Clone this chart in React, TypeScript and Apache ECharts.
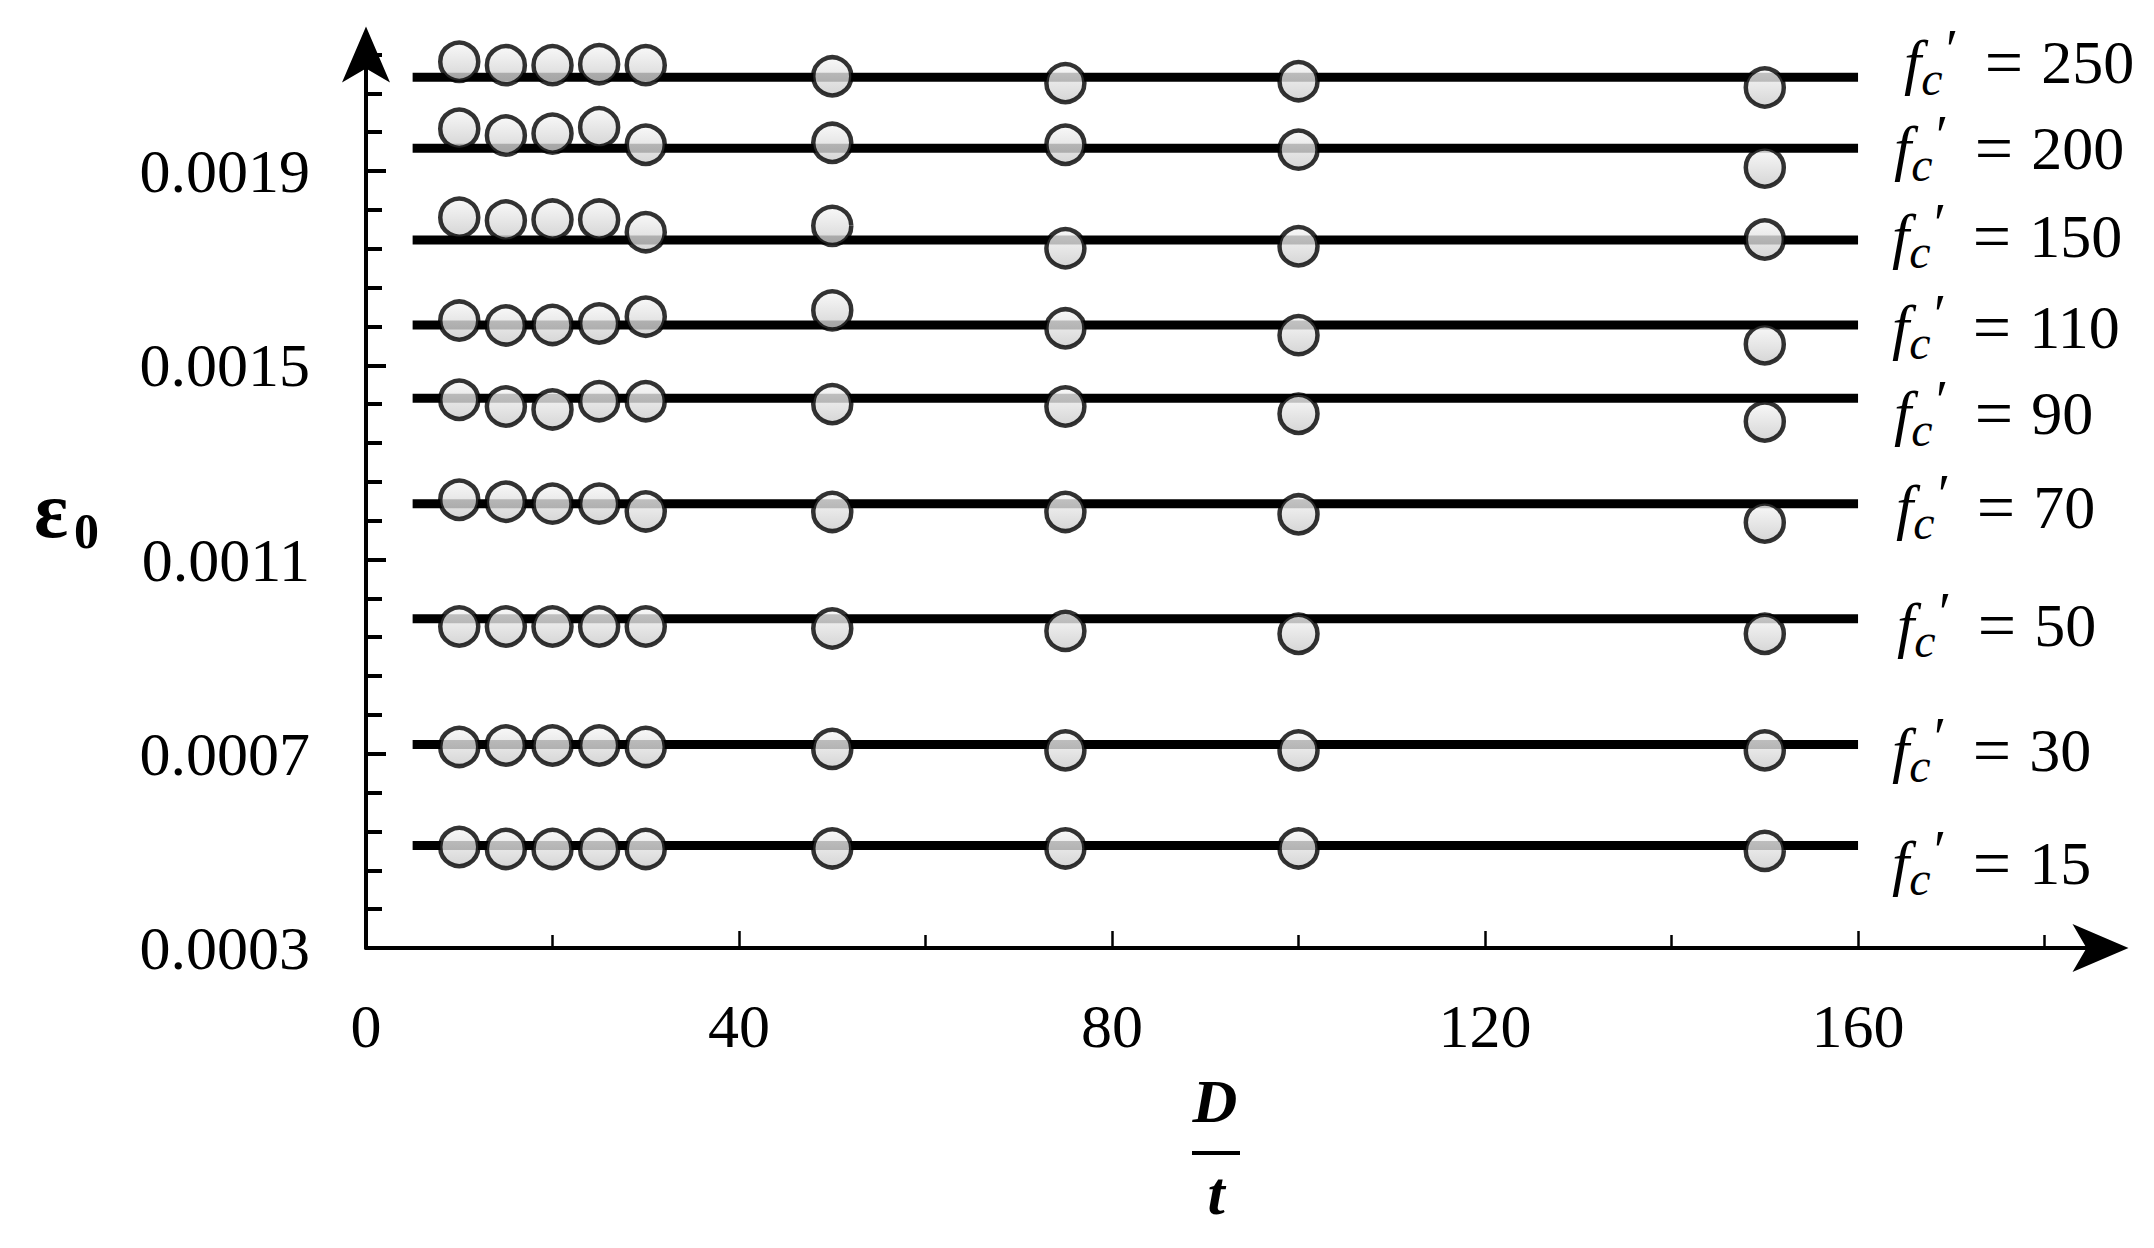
import React, { useEffect, useRef } from "react";
import * as echarts from "echarts";

const SERIF = '"Liberation Serif", "Times New Roman", serif';

// ---- data ----
const dOverT = [10, 15, 20, 25, 30, 50, 75, 100, 150];
const fcValues = [250, 200, 150, 110, 90, 70, 50, 30, 15];
const fitLevels = [0.002093, 0.001947, 0.001758, 0.001583, 0.001432, 0.001215, 0.000978, 0.000719, 0.000511];
const fitStartX = 5;
const fitEndX = 160;

const eps250 = [0.002125, 0.002118, 0.002118, 0.00212, 0.002118, 0.002095, 0.002081, 0.002085, 0.002072];
const eps200 = [0.001987, 0.001973, 0.001977, 0.00199, 0.001954, 0.001958, 0.001954, 0.001944, 0.001907];
const eps150 = [0.001804, 0.001798, 0.0018, 0.0018, 0.001774, 0.001787, 0.001741, 0.001745, 0.001759];
const eps110 = [0.001592, 0.001582, 0.001583, 0.001586, 0.0016, 0.001613, 0.001576, 0.001562, 0.001543];
const eps90 = [0.001429, 0.001415, 0.001409, 0.001426, 0.001426, 0.00142, 0.001415, 0.0014, 0.001384];
const eps70 = [0.001223, 0.001219, 0.001215, 0.001215, 0.001199, 0.001198, 0.001198, 0.001193, 0.001176];
const eps50 = [0.000962, 0.000962, 0.000962, 0.000962, 0.000962, 0.000958, 0.000953, 0.000947, 0.000947];
const eps30 = [0.000714, 0.000717, 0.000717, 0.000717, 0.000714, 0.00071, 0.000707, 0.000707, 0.000707];
const eps15 = [0.000508, 0.000504, 0.000504, 0.000504, 0.000504, 0.000505, 0.000505, 0.000505, 0.0005];
const strainSets = [eps250, eps200, eps150, eps110, eps90, eps70, eps50, eps30, eps15];

// ---- axes ----
const yMin = 0.0003;
const yMax = 0.00214;
const xMin = 0;
const xMax = 186;
const yTickLabels = [0.0003, 0.0007, 0.0011, 0.0015, 0.0019];
const yMinorTicks = [
  0.00038, 0.00046, 0.00054, 0.00062, 0.00078, 0.00086, 0.00094, 0.00102, 0.00118, 0.00126,
  0.00134, 0.00142, 0.00158, 0.00166, 0.00174, 0.00182, 0.00198, 0.00206, 0.00214,
];
const xTickLabels = [0, 40, 80, 120, 160];
const xMajorTicks = [40, 80, 120, 160];
const xMinorTicks = [20, 60, 100, 140, 180];

// label nudges (layout only)
const labelShiftX = [12, 2, 0, 0, 2, 4, 5, 0, 0];
const labelShiftY = [-15, 0, -4, 2, 15, 3, 6, 5, 17];

export default function App() {
  const ref = useRef<HTMLDivElement>(null);

  useEffect(() => {
    if (!ref.current) return;
    const chart = echarts.init(ref.current, null, { renderer: "svg" });

    const markerFill = new echarts.graphic.LinearGradient(0, 0, 0, 1, [
      { offset: 0, color: "#f7f7f7" },
      { offset: 1, color: "#cbcbcb" },
    ]);

    const series: any[] = [];
    fcValues.forEach((fc, i) => {
      series.push({
        type: "line",
        name: "fc' = " + fc,
        xAxisIndex: 0,
        yAxisIndex: 0,
        data: [
          [fitStartX, fitLevels[i]],
          [fitEndX, fitLevels[i]],
        ],
        showSymbol: false,
        symbol: "none",
        z: 2,
        lineStyle: { color: "#000", width: 9, cap: "butt" },
        endLabel: {
          show: true,
          distance: 34,
          offset: [labelShiftX[i], labelShiftY[i]],
          formatter: () => "{f|f}{c|c}{p|′}{e|=}{n|" + fc + "}",
          rich: {
            f: { fontFamily: SERIF, fontStyle: "italic", fontSize: 62, lineHeight: 80, color: "#000" },
            c: {
              fontFamily: SERIF,
              fontStyle: "italic",
              fontSize: 48,
              lineHeight: 46,
              verticalAlign: "bottom",
              color: "#000",
            },
            p: {
              fontFamily: SERIF,
              fontStyle: "italic",
              fontSize: 56,
              lineHeight: 70,
              verticalAlign: "top",
              color: "#000",
            },
            e: {
              fontFamily: SERIF,
              fontSize: 68,
              lineHeight: 80,
              color: "#000",
              padding: [0, 0, 0, 30],
            },
            n: { fontFamily: SERIF, fontSize: 62, lineHeight: 80, color: "#000", padding: [0, 0, 0, 18] },
          },
        },
      });
      series.push({
        type: "scatter",
        name: "fc' = " + fc + " data",
        xAxisIndex: 0,
        yAxisIndex: 0,
        data: dOverT.map((x, j) => [x, strainSets[i][j]]),
        symbol: "circle",
        symbolSize: 38,
        z: 3,
        itemStyle: { color: markerFill, borderColor: "#000", borderWidth: 4.5 },
      });
    });

    const option: any = {
      animation: false,
      backgroundColor: "#fff",
      textStyle: { fontFamily: SERIF },
      grid: {
        left: 366,
        right: 53.5,
        top: 54.45,
        bottom: 300,
        containLabel: false,
        outerBoundsMode: "none",
      },
      xAxis: [
        {
          type: "value",
          min: xMin,
          max: xMax,
          position: "bottom",
          axisLine: {
            show: true,
            onZero: false,
            symbol: ["none", "arrow"],
            symbolSize: [36, 56],
            symbolOffset: [0, 28],
            lineStyle: { color: "#000", width: 4 },
          },
          axisTick: {
            show: true,
            inside: true,
            length: 17,
            customValues: xMajorTicks,
            lineStyle: { color: "#000", width: 2.5 },
          },
          axisLabel: {
            show: true,
            customValues: xTickLabels,
            margin: 47,
            color: "#000",
            fontFamily: SERIF,
            fontSize: 62,
            formatter: (v: number) => String(v),
          },
          splitLine: { show: false },
        },
        {
          type: "value",
          min: xMin,
          max: xMax,
          position: "bottom",
          axisLine: { show: false, onZero: false },
          axisTick: {
            show: true,
            inside: true,
            length: 13,
            customValues: xMinorTicks,
            lineStyle: { color: "#000", width: 2.5 },
          },
          axisLabel: { show: false },
          splitLine: { show: false },
        },
      ],
      yAxis: [
        {
          type: "value",
          min: yMin,
          max: yMax,
          position: "left",
          axisLine: {
            show: true,
            onZero: false,
            symbol: ["none", "arrow"],
            symbolSize: [36, 56],
            symbolOffset: [0, 28],
            lineStyle: { color: "#000", width: 4 },
          },
          axisTick: {
            show: true,
            inside: true,
            length: 20,
            customValues: yTickLabels.slice(1),
            lineStyle: { color: "#000", width: 4 },
          },
          axisLabel: {
            show: true,
            customValues: yTickLabels,
            margin: 56,
            color: "#000",
            fontFamily: SERIF,
            fontSize: 62,
            formatter: (v: number) => v.toFixed(4),
          },
          splitLine: { show: false },
        },
        {
          type: "value",
          min: yMin,
          max: yMax,
          position: "left",
          axisLine: { show: false, onZero: false },
          axisTick: {
            show: true,
            inside: true,
            length: 16,
            customValues: yMinorTicks,
            lineStyle: { color: "#000", width: 4 },
          },
          axisLabel: { show: false },
          splitLine: { show: false },
        },
      ],
      graphic: [
        {
          type: "text",
          x: 34,
          y: 510,
          style: {
            text: "ε",
            font: "bold 80px " + SERIF,
            fill: "#000",
            align: "left",
            verticalAlign: "middle",
            textAlign: "left",
            textVerticalAlign: "middle",
          },
        },
        {
          type: "text",
          x: 74,
          y: 531,
          style: {
            text: "0",
            font: "bold 50px " + SERIF,
            fill: "#000",
            align: "left",
            verticalAlign: "middle",
            textAlign: "left",
            textVerticalAlign: "middle",
          },
        },
        {
          type: "text",
          x: 1215,
          y: 1101,
          style: {
            text: "D",
            font: "italic bold 62px " + SERIF,
            fill: "#000",
            align: "center",
            verticalAlign: "middle",
            textAlign: "center",
            textVerticalAlign: "middle",
          },
        },
        {
          type: "line",
          shape: { x1: 1192, y1: 1153, x2: 1240, y2: 1153 },
          style: { stroke: "#000", lineWidth: 4 },
        },
        {
          type: "text",
          x: 1216,
          y: 1193,
          style: {
            text: "t",
            font: "italic bold 62px " + SERIF,
            fill: "#000",
            align: "center",
            verticalAlign: "middle",
            textAlign: "center",
            textVerticalAlign: "middle",
          },
        },
      ],
      series,
    };

    chart.setOption(option);
    return () => chart.dispose();
  }, []);

  return (
    <div
      ref={ref}
      style={{ position: "fixed", left: 0, top: 0, width: 2154, height: 1248, background: "#fff" }}
    />
  );
}
